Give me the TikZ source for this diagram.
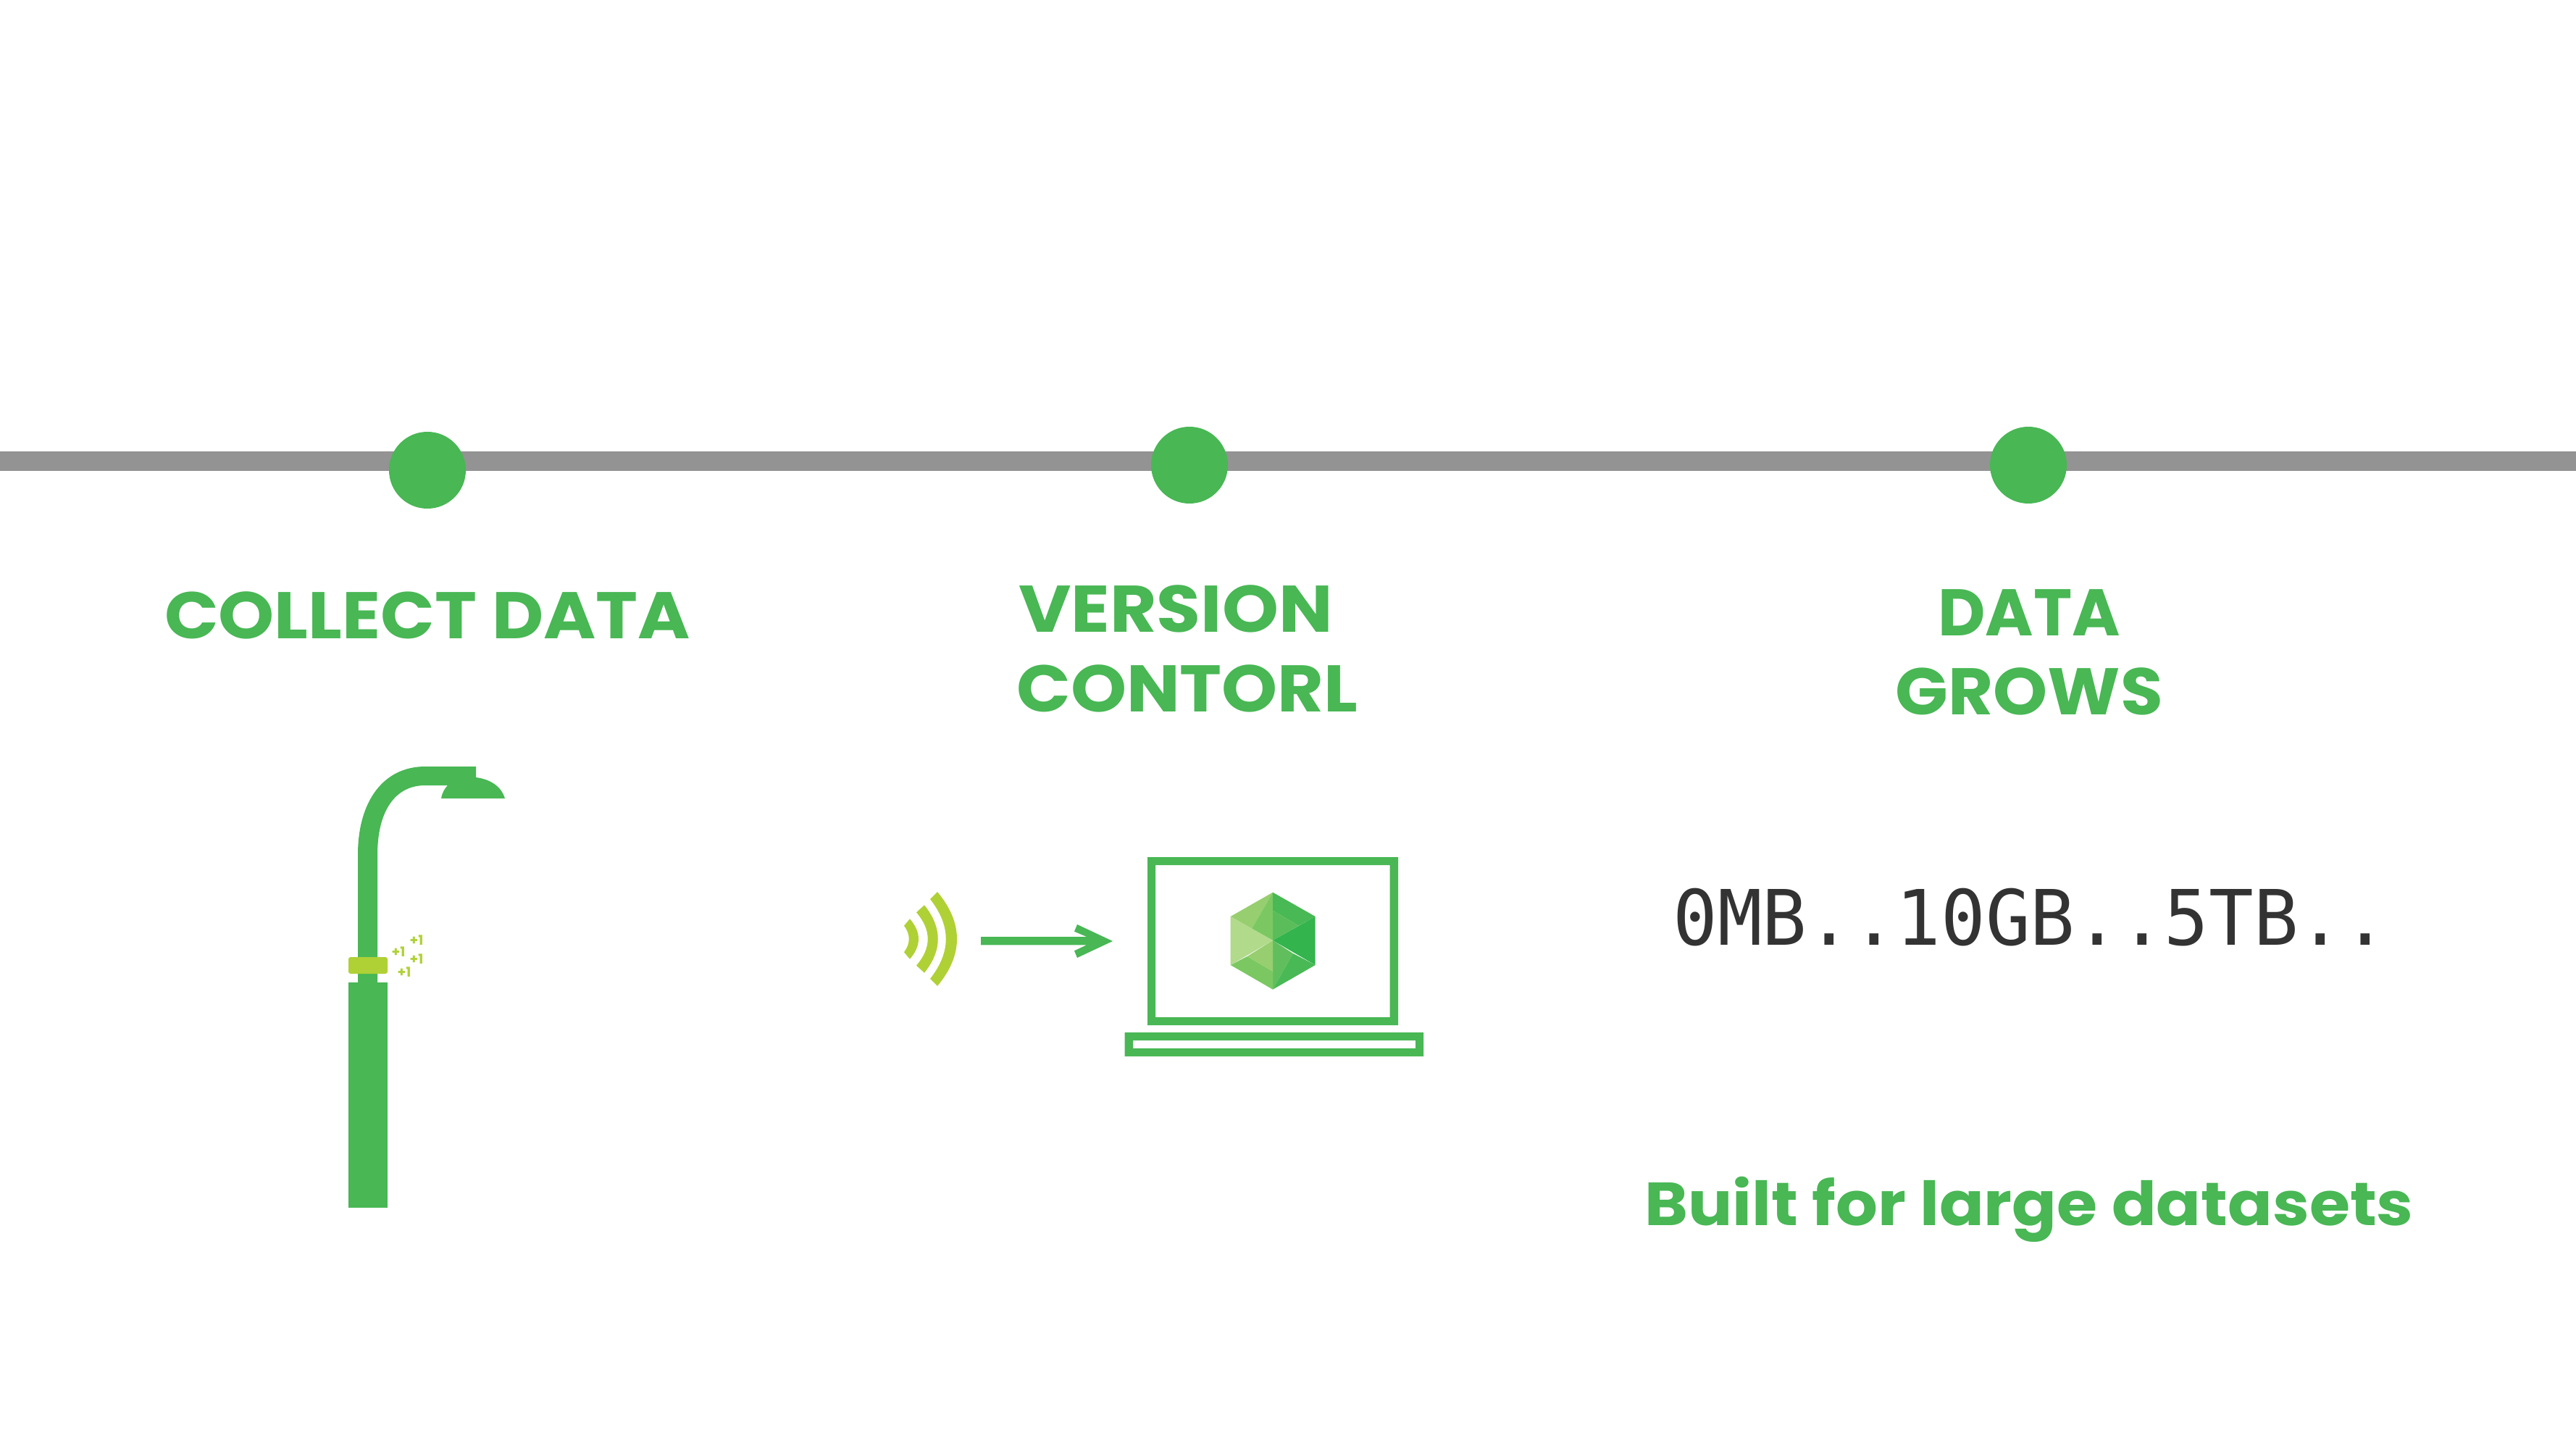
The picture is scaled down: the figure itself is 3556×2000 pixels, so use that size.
\documentclass[tikz,border=0pt]{standalone}
\usepackage{fontspec}
\setmainfont{Poppins}
\newfontfamily\monofont{DejaVu Sans Mono}
\definecolor{brand}{HTML}{48B754}
\definecolor{lime}{HTML}{AFD135}
\definecolor{rail}{HTML}{939393}
\definecolor{inkdark}{HTML}{333333}
\definecolor{gemA}{HTML}{97CE6F}
\definecolor{gemB}{HTML}{7BC862}
\definecolor{gemC}{HTML}{48B954}
\definecolor{gemD}{HTML}{5BBD5A}
\definecolor{gemE}{HTML}{33B44D}
\definecolor{gemF}{HTML}{60BF5C}
\definecolor{gemG}{HTML}{B1DA8B}
\tikzset{
  head/.style={text=brand,font=\bfseries\fontsize{45.5}{45.5}\selectfont,anchor=base,inner sep=0pt},
  plusone/.style={text=lime,font=\bfseries\fontsize{9.3}{9.3}\selectfont,inner sep=0pt},
  dot/.style={circle,fill=brand,minimum size=53pt,inner sep=0pt}
}
\begin{document}
\begin{tikzpicture}[x=0.5pt,y=-0.5pt]
\useasboundingbox (0,0) rectangle (3556,2000);
\fill[white] (0,0) rectangle (3556,2000);
% rail
\coordinate (railL) at (0,636.5);
\coordinate (railR) at (3556,636.5);
\draw[rail,line width=13.8pt] (railL) -- (railR);
\node[dot] (d1) at (590,649) {};
\node[dot] (d2) at (1642,642) {};
\node[dot] (d3) at (2800,642) {};
% titles
\node[head] (t1) at (590,881) {\scalebox{1.078}[1]{COLLECT DATA}};
\node[head] (t2a) at (1623,872) {\scalebox{1.09}[1]{VERSION}};
\node[head] (t2b) at (1639,982) {\scalebox{1.078}[1]{CONTORL}};
\node[head] (t3a) at (2801,877) {\scalebox{0.99}[1]{DATA}};
\node[head] (t3b) at (2801,986) {\scalebox{1.05}[1]{GROWS}};
\node[head,font=\bfseries\fontsize{42}{42}\selectfont] (t4) at (2801,1691) {\scalebox{1.083}[1]{Built for large datasets}};
\node[anchor=base,inner sep=0pt,text=inkdark,font=\monofont\fontsize{52.8}{52.8}\selectfont] (t5) at (2803,1304) {\scalebox{0.97}[1]{0MB..10GB..5TB..}};
% lamp
\fill[brand] (494,1356) -- (494,1180) .. controls (494,1105) and (530,1058) .. (587,1058)
  -- (657,1058) -- (657,1073) .. controls (680,1076) and (693,1088) .. (697,1102) -- (609,1102)
  .. controls (610,1095) and (614,1088) .. (618,1084) -- (587,1084)
  .. controls (545,1084) and (521,1120) .. (521,1180) -- (521,1356) -- cycle;
\fill[brand] (481,1356) rectangle (535,1667);
\fill[lime,rounded corners=1.5pt] (481,1321) rectangle (535,1344);
\node[plusone] (p1) at (575,1298) {+1};
\node[plusone] (p2) at (550,1314) {+1};
\node[plusone] (p3) at (575,1324) {+1};
\node[plusone] (p4) at (558,1342) {+1};
% wifi
\fill[lime] (1294,1231) .. controls (1330,1274) and (1330,1318) .. (1294,1361) -- (1284,1351) .. controls (1313,1314) and (1313,1278) .. (1284,1241) -- cycle;
\fill[lime] (1276,1249.3) .. controls (1301,1280.4) and (1301,1311.6) .. (1276,1342.7) -- (1265,1332.7) .. controls (1286,1308.2) and (1286,1283.8) .. (1265,1259.3) -- cycle;
\fill[lime] (1256,1268.3) .. controls (1272,1286.8) and (1272,1305.2) .. (1256,1323.7) -- (1248,1314.3) .. controls (1257,1302) and (1257,1290) .. (1248,1277.7) -- cycle;
% arrow
\fill[brand] (1354,1293) -- (1500,1293) -- (1483,1285.7) -- (1487,1276) -- (1536,1299) -- (1487,1322) -- (1483,1312.3) -- (1500,1304.3) -- (1354,1304.3) -- cycle;
% laptop
\fill[brand,even odd rule] (1584,1183) rectangle (1930,1415) (1595,1194) rectangle (1918.5,1404);
\fill[brand,even odd rule] (1552.5,1425) rectangle (1965,1458) (1564,1436) rectangle (1954,1447);
% gem
\coordinate (gT) at (1757,1231.7);
\coordinate (gUR) at (1815.7,1265);
\coordinate (gLR) at (1815.7,1332);
\coordinate (gB) at (1757,1365.7);
\coordinate (gLL) at (1698.7,1332);
\coordinate (gUL) at (1698.7,1265);
\coordinate (gC) at (1757,1298);
\coordinate (g1) at (1728,1281.7);
\coordinate (g2) at (1792.7,1277.7);
\coordinate (g3) at (1757,1256.7);
\coordinate (g4) at (1785,1316);
\coordinate (g5) at (1721.7,1320);
\coordinate (g6) at (1757,1340.7);
\fill[gemA] (gT) -- (gUL) -- (g1) -- cycle;
\fill[gemB] (gT) -- (g1) -- (gC) -- cycle;
\fill[gemC] (gT) -- (gUR) -- (g2) -- (g3) -- cycle;
\fill[gemD] (g3) -- (g2) -- (gC) -- cycle;
\fill[gemE] (gC) -- (gUR) -- (gLR) -- cycle;
\fill[gemF] (gC) -- (g4) -- (gB) -- (g6) -- cycle;
\fill[gemC] (g4) -- (gLR) -- (gB) -- cycle;
\fill[gemB] (gLL) -- (g5) -- (g6) -- (gB) -- cycle;
\fill[gemA] (gC) -- (g5) -- (g6) -- cycle;
\fill[gemG] (gC) -- (gUL) -- (gLL) -- cycle;
\end{tikzpicture}
\end{document}
